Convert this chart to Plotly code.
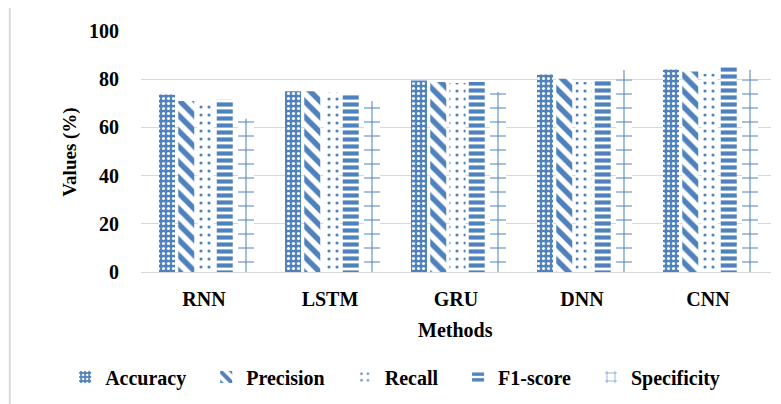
import plotly.graph_objects as go

methods = ["RNN", "LSTM", "GRU", "DNN", "CNN"]
accuracy = [73.7, 75.0, 79.5, 82.0, 84.0]
precision = [71.0, 75.0, 78.8, 80.2, 83.2]
recall = [71.0, 74.5, 78.4, 78.8, 82.3]
f1_score = [71.5, 74.3, 78.8, 79.5, 85.0]
specificity = [63.6, 71.0, 74.7, 83.8, 83.9]
y_ticks = [0, 20, 40, 60, 80, 100]

BLUE = "#4F81BD"
FONT = "Liberation Serif"
NB = "\u00a0"

CAT_PX = 126.0          # pixel width of one category (plot width 630 / 5)
BAR_PX = 16.0
offsets_px = [-45.0, -25.75, -6.5, 12.75, 34.0]

series = [
    ("Accuracy", accuracy, dict(shape=".", bgcolor=BLUE, fgcolor="white", size=5, solidity=0.3, fgopacity=1)),
    ("Precision", precision, dict(shape="\\", bgcolor="white", fgcolor=BLUE, size=11, solidity=0.5, fgopacity=1)),
    ("Recall", recall, dict(shape=".", bgcolor="white", fgcolor=BLUE, size=8, solidity=0.12, fgopacity=1)),
    ("F1-score", f1_score, dict(shape="-", bgcolor="white", fgcolor=BLUE, size=7, solidity=0.6, fgopacity=1)),
    ("Specificity", specificity, dict(shape="+", bgcolor="white", fgcolor=BLUE, size=14, solidity=0.14, fgopacity=1)),
]

fig = go.Figure()
for i, (name, vals, pat) in enumerate(series):
    label = name + (NB * 3 if i < len(series) - 1 else "")
    fig.add_trace(go.Bar(
        name=label, x=methods, y=vals,
        offset=offsets_px[i] / CAT_PX, width=BAR_PX / CAT_PX,
        marker=dict(color="white", line=dict(width=0), pattern=pat),
    ))

fig.update_layout(
    width=773, height=396,
    margin=dict(l=133, r=10, t=23, b=132, autoexpand=False),
    paper_bgcolor="white", plot_bgcolor="white",
    barmode="overlay",
    font=dict(family=FONT, size=19, color="black"),
    showlegend=True,
    legend=dict(orientation="h", x=-0.1204, xanchor="left", y=-0.4357, yanchor="middle",
                font=dict(family=FONT, size=20, color="black", weight="bold"),
                itemwidth=30, traceorder="normal"),
    xaxis=dict(
        showgrid=False, showline=False, ticks="", automargin=False,
        range=[-0.5, 4.5],
        tickfont=dict(family=FONT, size=20, weight="bold"), ticklabelstandoff=13,
    ),
    yaxis=dict(
        range=[0, 100], tickvals=y_ticks, showgrid=True, gridcolor="#D9D9D9", gridwidth=1,
        zeroline=True, zerolinecolor="#D9D9D9", zerolinewidth=1, showline=False, ticks="",
        automargin=False,
        tickfont=dict(family=FONT, size=20, weight="bold"), ticklabelstandoff=21,
    ),
    annotations=[
        dict(text="<b>Values (%)</b>", xref="paper", yref="paper", x=-0.1129, y=0.498,
             textangle=-90, showarrow=False, xanchor="center", yanchor="middle",
             font=dict(family=FONT, size=19)),
        dict(text="<b>Methods</b>", xref="paper", yref="paper", x=0.4992, y=-0.241,
             showarrow=False, xanchor="center", yanchor="middle",
             font=dict(family=FONT, size=20)),
    ],
    shapes=[dict(type="line", xref="paper", yref="paper", x0=-0.2083, x1=-0.2083,
                 y0=-0.6, y1=1.15, line=dict(color="#D9D9D9", width=2))],
)

fig.write_html("out.html")
